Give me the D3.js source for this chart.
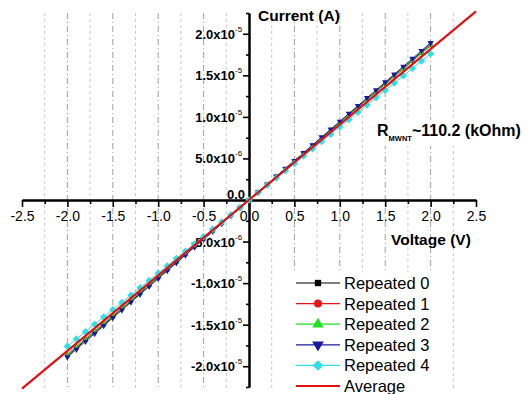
<!DOCTYPE html>
<html>
<head>
<meta charset="utf-8">
<script src="https://cdn.jsdelivr.net/npm/d3@7"></script>
<style>
  html, body { margin: 0; padding: 0; background: #fff; }
  svg { display: block; font-family: "Liberation Sans", Arial, sans-serif; }
</style>
</head>
<body>
<svg id="chart" width="531" height="394"></svg>
<script>
// Bias voltage sweep (V)
const voltage = [-2.0, -1.9, -1.8, -1.7, -1.6, -1.5, -1.4, -1.3, -1.2, -1.1, -1.0,
  -0.9, -0.8, -0.7, -0.6, -0.5, -0.4, -0.3, -0.2, -0.1, 0.0,
  0.1, 0.2, 0.3, 0.4, 0.5, 0.6, 0.7, 0.8, 0.9, 1.0,
  1.1, 1.2, 1.3, 1.4, 1.5, 1.6, 1.7, 1.8, 1.9, 2.0];

// Measured current of each repeated sweep (µA)
const repeated0 = [-18.72, -17.80, -16.85, -15.93, -14.98, -14.06, -13.11, -12.17, -11.24, -10.30, -9.37,
  -8.43, -7.49, -6.56, -5.62, -4.69, -3.75, -2.82, -1.88, -0.95, 0.02,
  0.95, 1.88, 2.83, 3.76, 4.70, 5.63, 6.57, 7.50, 8.44, 9.37,
  10.31, 11.24, 12.18, 13.12, 14.05, 14.98, 15.92, 16.86, 17.79, 18.73];
const repeated1 = [-18.58, -17.63, -16.70, -15.78, -14.85, -13.92, -12.99, -12.07, -11.14, -10.21, -9.28,
  -8.36, -7.43, -6.50, -5.57, -4.65, -3.72, -2.79, -1.86, -0.93, 0.00,
  0.93, 1.86, 2.79, 3.71, 4.64, 5.57, 6.50, 7.42, 8.35, 9.28,
  10.21, 11.14, 12.06, 12.99, 13.92, 14.85, 15.78, 16.71, 17.64, 18.57];
const repeated2 = [-18.66, -17.70, -16.78, -15.85, -14.92, -13.99, -13.05, -12.12, -11.19, -10.26, -9.33,
  -8.39, -7.46, -6.53, -5.60, -4.66, -3.73, -2.80, -1.87, -0.94, 0.01,
  0.94, 1.87, 2.80, 3.73, 4.66, 5.59, 6.53, 7.46, 8.39, 9.32,
  10.25, 11.19, 12.12, 13.05, 13.98, 14.92, 15.85, 16.78, 17.71, 18.66];
const repeated3 = [-18.90, -17.96, -17.02, -16.07, -15.13, -14.18, -13.24, -12.29, -11.35, -10.40, -9.46,
  -8.51, -7.57, -6.62, -5.68, -4.73, -3.79, -2.84, -1.90, -0.95, 0.00,
  0.95, 1.89, 2.84, 3.78, 4.73, 5.67, 6.62, 7.56, 8.51, 9.45,
  10.40, 11.34, 12.29, 13.23, 14.18, 15.12, 16.07, 17.01, 17.96, 18.91];
const repeated4 = [-17.60, -16.73, -15.85, -14.95, -14.08, -13.21, -12.32, -11.45, -10.57, -9.68, -8.80,
  -7.93, -7.04, -6.17, -5.28, -4.41, -3.52, -2.65, -1.77, -0.89, -0.01,
  0.88, 1.76, 2.64, 3.52, 4.40, 5.28, 6.16, 7.04, 7.92, 8.80,
  9.68, 10.56, 11.44, 12.32, 13.20, 14.08, 14.96, 15.84, 16.72, 17.60];

const seriesNames = ["Repeated 0", "Repeated 1", "Repeated 2", "Repeated 3", "Repeated 4"];

// Averaged resistance (kOhm) and the voltage span of its fit line
const resistanceK = 110.2;
const averageVoltage = [-2.5, 2.5];

// Axis ticks and labels
const xMajorTicks = [-2.5, -2.0, -1.5, -1.0, -0.5, 0.0, 0.5, 1.0, 1.5, 2.0, 2.5];
const xTickLabels = ["-2.5", "-2.0", "-1.5", "-1.0", "-0.5", "0.0", "0.5", "1.0", "1.5", "2.0", "2.5"];
const xMinorTicks = [-2.25, -1.75, -1.25, -0.75, -0.25, 0.25, 0.75, 1.25, 1.75, 2.25];
const gridMajor = [-2.0, -1.5, -1.0, -0.5, 0.5, 1.0, 1.5, 2.0];
const gridMinor = [-2.25, -1.75, -1.25, -0.75, -0.25, 0.25, 0.75, 1.25, 1.75, 2.25];
const yMajorTicks = [-2.0e-5, -1.5e-5, -1.0e-5, -0.5e-5, 0, 0.5e-5, 1.0e-5, 1.5e-5, 2.0e-5];
const yTickMantissa = ["-2.0x10", "-1.5x10", "-1.0x10", "-5.0x10", "0.0", "5.0x10", "1.0x10", "1.5x10", "2.0x10"];
const yTickExponent = ["-5", "-5", "-5", "-6", "", "-6", "-5", "-5", "-5"];
const yMinorTicks = [-2.25e-5, -1.75e-5, -1.25e-5, -0.75e-5, -0.25e-5, 0.25e-5, 0.75e-5, 1.25e-5, 1.75e-5, 2.25e-5];

const svg = d3.select("#chart");
const x = d3.scaleLinear().domain([-2.5, 2.5]).range([22, 476]);
const y = d3.scaleLinear().domain([-2.25e-5, 2.25e-5]).range([387, 13]);
const x0 = x(0), y0 = y(0);

// Vertical grid lines
svg.append("g").selectAll("line").data(gridMinor).join("line")
  .attr("x1", d => x(d)).attr("x2", d => x(d))
  .attr("y1", 13).attr("y2", 388)
  .attr("stroke", "#c8c8c8").attr("stroke-width", 1).attr("stroke-dasharray", "3,3");
svg.append("g").selectAll("line").data(gridMajor).join("line")
  .attr("x1", d => x(d)).attr("x2", d => x(d))
  .attr("y1", 13).attr("y2", 388)
  .attr("stroke", "#a0a0a0").attr("stroke-width", 1).attr("stroke-dasharray", "6,3,1,3");

// Axes crossing at the origin
const xAxisMinor = d3.axisBottom(x).tickValues(xMinorTicks).tickSize(4).tickSizeOuter(0).tickFormat("");
const xAxis = d3.axisBottom(x).tickValues(xMajorTicks).tickSize(7).tickSizeOuter(0)
  .tickFormat((d, i) => xTickLabels[i]);
const gxm = svg.append("g").attr("transform", `translate(0,${y0})`).call(xAxisMinor);
const gx = svg.append("g").attr("transform", `translate(0,${y0})`).call(xAxis);
[gx, gxm].forEach(g => {
  g.select(".domain").attr("stroke", "#000").attr("stroke-width", 2);
  g.selectAll(".tick line").attr("stroke", "#000").attr("stroke-width", 1.6);
});
gx.selectAll(".tick text")
  .attr("font-family", "'Liberation Sans', Arial, sans-serif")
  .attr("font-size", 14).attr("fill", "#000")
  .attr("y", 11);

const yAxisMinor = d3.axisLeft(y).tickValues(yMinorTicks).tickSize(3).tickSizeOuter(0).tickFormat("");
const yAxis = d3.axisLeft(y).tickValues(yMajorTicks).tickSize(6).tickSizeOuter(0).tickFormat("");
const gym = svg.append("g").attr("transform", `translate(${x0},0)`).call(yAxisMinor);
const gy = svg.append("g").attr("transform", `translate(${x0},0)`).call(yAxis);
[gy, gym].forEach(g => {
  g.select(".domain").attr("stroke", "#000").attr("stroke-width", 2);
  g.selectAll(".tick line").attr("stroke", "#000").attr("stroke-width", 1.6);
});

// Y tick labels with superscript exponents
const yLabels = svg.append("g")
  .attr("font-size", 13).attr("font-weight", "bold").attr("fill", "#000");
yMajorTicks.forEach((v, i) => {
  yLabels.append("text")
    .attr("x", yTickExponent[i] ? x0 - 14 : x0 - 4)
    .attr("y", v === 0 ? y(v) - 1 : y(v) + 5)
    .attr("text-anchor", "end")
    .text(yTickMantissa[i]);
  if (yTickExponent[i]) {
    yLabels.append("text")
      .attr("x", x0 - 14).attr("y", y(v) - 2)
      .attr("font-size", 8).attr("font-weight", "normal")
      .text(yTickExponent[i]);
  }
});

// Axis titles
svg.append("text").attr("x", 258).attr("y", 21)
  .attr("font-size", 15.5).attr("font-weight", "bold").text("Current (A)");
svg.append("text").attr("x", 391).attr("y", 245)
  .attr("font-size", 15.5).attr("font-weight", "bold").text("Voltage (V)");

// Measured sweeps
const series = [repeated0, repeated1, repeated2, repeated3, repeated4];
const colors = ["#000000", "#e81418", "#1ee01e", "#1a1aa0", "#2ee0e6"];
const sym = [
  { type: d3.symbolSquare, size: 12, legend: 40, rot: 0 },
  { type: d3.symbolCircle, size: 12, legend: 50, rot: 0 },
  { type: d3.symbolTriangle, size: 14, legend: 55, rot: 0 },
  { type: d3.symbolTriangle, size: 17, legend: 60, rot: 180 },
  { type: d3.symbolSquare, size: 28, legend: 55, rot: 45 }
];
const line = d3.line().x(d => x(d[0])).y(d => y(d[1]));
series.forEach((vals, k) => {
  const pts = voltage.map((v, i) => [v, vals[i] * 1e-6]);
  const g = svg.append("g");
  g.append("path").attr("d", line(pts)).attr("fill", "none")
    .attr("stroke", colors[k]).attr("stroke-width", 1);
  g.selectAll("path.pt").data(pts).join("path").attr("class", "pt")
    .attr("d", d3.symbol().type(sym[k].type).size(sym[k].size))
    .attr("transform", d => `translate(${x(d[0])},${y(d[1])}) rotate(${sym[k].rot})`)
    .attr("fill", colors[k]);
});

// Average fit line, I = V / R
const avgPts = averageVoltage.map(v => [v, v / (resistanceK * 1e3)]);
svg.append("path").attr("d", line(avgPts)).attr("fill", "none")
  .attr("stroke", "#e01010").attr("stroke-width", 2.2);

// Resistance annotation
const ann = svg.append("g");
ann.append("rect").attr("x", 375).attr("y", 120).attr("width", 156).attr("height", 26).attr("fill", "#fff");
const annText = ann.append("text").attr("x", 377).attr("y", 136)
  .attr("font-size", 16).attr("font-weight", "bold").attr("fill", "#000");
annText.append("tspan").text("R");
annText.append("tspan").attr("font-size", 7.5).attr("dy", 5).text("MWNT");
annText.append("tspan").attr("dy", -5).text("~" + resistanceK.toFixed(1) + " (kOhm)");

// Legend
const legend = svg.append("g");
legend.append("rect").attr("x", 290).attr("y", 272).attr("width", 150).attr("height", 122).attr("fill", "#fff");
const legendNames = seriesNames.concat(["Average"]);
const legendColors = colors.concat(["#e01010"]);
legendNames.forEach((name, i) => {
  const cy = 283 + i * 20.6;
  legend.append("line").attr("x1", 296).attr("x2", 340).attr("y1", cy).attr("y2", cy)
    .attr("stroke", legendColors[i]).attr("stroke-width", i === 5 ? 2 : 1.2);
  if (i < 5) {
    legend.append("path")
      .attr("d", d3.symbol().type(sym[i].type).size(sym[i].legend))
      .attr("transform", `translate(318,${cy}) rotate(${sym[i].rot})`)
      .attr("fill", legendColors[i]);
  }
  legend.append("text").attr("x", 344).attr("y", cy + 6)
    .attr("font-size", 16.5).attr("fill", "#000").text(name);
});
</script>
</body>
</html>
